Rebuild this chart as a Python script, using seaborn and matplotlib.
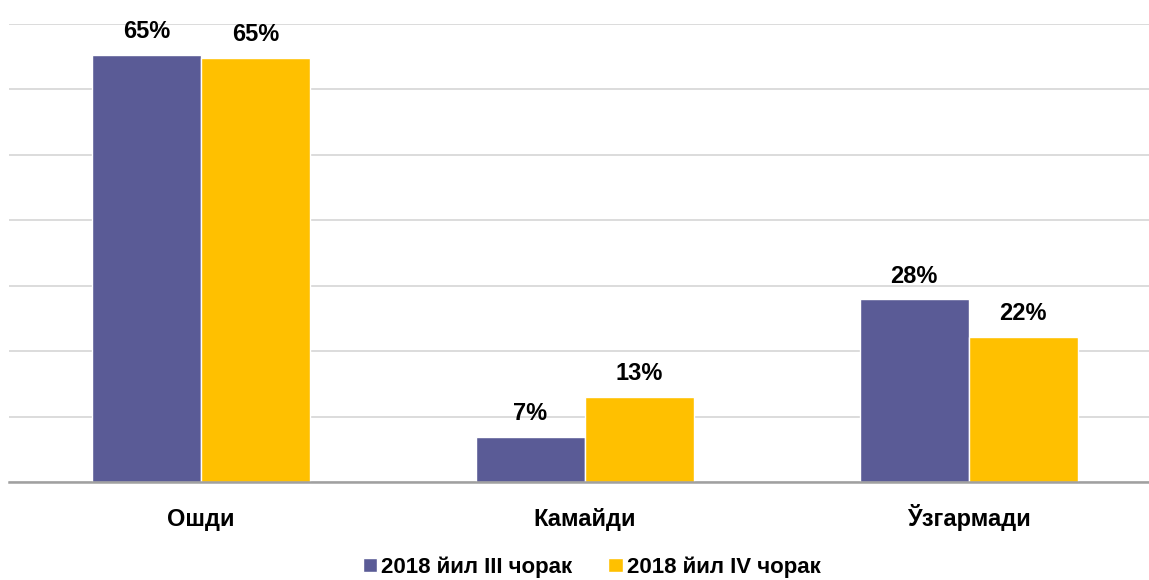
import matplotlib
matplotlib.use("Agg")
import matplotlib.pyplot as plt
import seaborn as sns
import pandas as pd

categories = ["Ошди", "Камайди", "Ўзгармади"]
series = ["2018 йил III чорак", "2018 йил IV чорак"]
q3_values = [65.3, 6.9, 27.9]
q4_values = [64.8, 13.0, 22.2]
q3_labels = ["65%", "7%", "28%"]
q4_labels = ["65%", "13%", "22%"]
colors = ["#5A5B96", "#FFC000"]

sns.set_theme(style="white")
plt.rcParams["font.family"] = ["Liberation Sans", "DejaVu Sans"]
plt.rcParams["text.color"] = "black"
plt.rcParams["xtick.color"] = "black"

df = pd.DataFrame({
    "cat": categories * 2,
    "series": [series[0]] * 3 + [series[1]] * 3,
    "val": q3_values + q4_values,
})

fig = plt.figure(figsize=(11.49, 5.8), dpi=100)
ax = fig.add_axes([0.008, 0.169, 0.992, 0.7896])
sns.barplot(data=df, x="cat", y="val", hue="series", palette=colors,
            width=0.568, ax=ax, saturation=1, legend=True)

ax.set_ylim(0, 70)
ax.set_xlim(-0.5, 2.47)
ax.set_yticks(range(0, 71, 10))
ax.yaxis.grid(True, color="#D9D9D9", linewidth=1.3)
ax.set_axisbelow(True)
for s in ["top", "right", "left"]:
    ax.spines[s].set_visible(False)
ax.spines["bottom"].set_color("#A0A0A0")
ax.spines["bottom"].set_linewidth(1.8)
ax.tick_params(axis="y", left=False, labelleft=False)
ax.tick_params(axis="x", bottom=False, length=0, pad=32)
ax.set_xlabel("")
ax.set_ylabel("")
for t in ax.get_xticklabels():
    t.set_fontsize(17)
    t.set_fontweight("bold")
    t.set_verticalalignment("baseline")
    t.set_color("black")

for cont, labs in zip(ax.containers, [q3_labels, q4_labels]):
    ax.bar_label(cont, labels=labs, padding=8.5, fontsize=17,
                 fontweight="bold", color="black")

leg = ax.legend(loc="center", bbox_to_anchor=(0.511, -0.1856), ncol=2,
                frameon=False, prop={"size": 16, "weight": "bold"},
                handlelength=0.65, handleheight=0.65, handletextpad=0.2,
                columnspacing=1.6)
for t in leg.get_texts():
    t.set_color("black")

fig.savefig("out.png", dpi=100)
